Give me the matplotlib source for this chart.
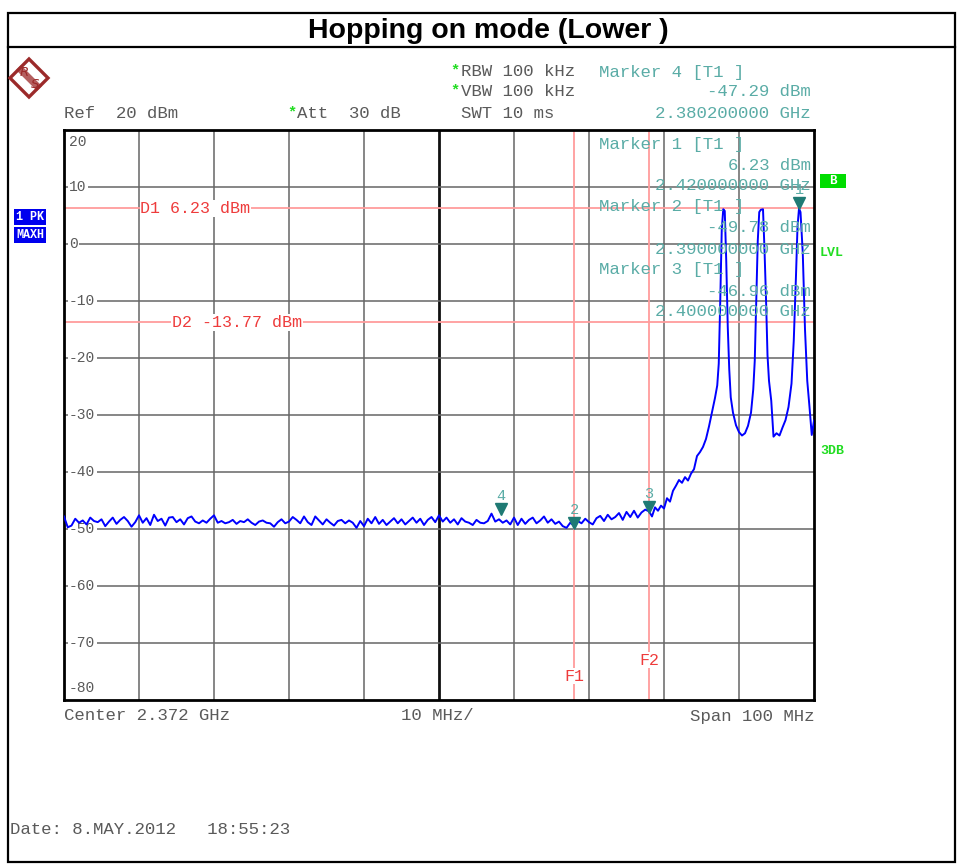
import numpy as np
import matplotlib.pyplot as plt
from matplotlib.patches import Rectangle, Polygon
from matplotlib.lines import Line2D
from matplotlib import transforms

# image size in pixels, all layout done in pixel coords
W, H = 961, 866


def fx(x):
    return x / W


def fy(y):
    return 1 - y / H


# spectrum settings
start_mhz = 2322.0
stop_mhz = 2422.0
ref_top = 20
ref_bottom = -80
y_ticks = [20, 10, 0, -10, -20, -30, -40, -50, -60, -70, -80]

# noise floor, 0.5 MHz steps from 2322.0 to 2399.5 MHz (dBm)
floor_levels = [
    -47.8, -49.7, -49.4, -48.2, -48.9, -48.5, -49.2, -48.0, -48.6, -48.8,
    -48.3, -49.5, -48.7, -48.0, -49.1, -48.4, -47.9, -48.6, -49.6, -48.8,
    -47.6, -48.9, -48.1, -49.3, -47.5, -48.6, -48.2, -49.4, -48.0, -47.9,
    -48.8, -48.3, -49.2, -48.1, -47.8, -48.7, -49.0, -48.5, -48.9, -48.2,
    -47.6, -48.9, -48.6, -49.0, -48.8, -48.4, -49.1, -48.6, -48.8, -48.3,
    -48.9, -49.3, -48.7, -48.5, -48.9, -49.0, -49.6, -48.8, -48.3, -49.0,
    -48.7, -47.9, -48.4, -49.0, -47.8, -48.8, -49.3, -47.8, -48.5, -49.2,
    -48.3, -48.9, -49.4, -48.6, -48.4, -49.0, -48.5, -48.9, -49.8, -48.6,
    -49.5, -48.2, -49.0, -47.9, -49.1, -48.4, -49.3, -48.7, -48.1, -49.0,
    -48.3, -49.2, -48.6, -48.0, -48.9, -48.2, -49.3, -48.4, -47.9, -48.8,
    -47.6, -48.7, -48.0, -48.9, -48.3, -49.2, -48.1, -48.7, -48.9, -49.3,
    -48.4, -48.9, -49.0, -48.6, -47.3, -48.7, -48.3, -48.9, -48.5, -49.2,
    -48.0, -49.3, -48.2, -49.1, -48.4, -48.0, -49.0, -48.5, -47.8, -48.9,
    -48.3, -49.1, -48.7, -49.5, -49.8, -48.9, -49.4, -48.6, -49.0, -48.2,
    -48.8, -49.2, -48.1, -47.7, -48.6, -47.5, -48.3, -47.9, -47.2, -48.4,
    -47.0, -47.9, -46.8, -48.0, -47.1, -46.6,
]
floor_freq = start_mhz + np.arange(len(floor_levels)) * 0.5

# ramp and the three hopping carriers (offset MHz from start, dBm)
tail_offset = [
    78.0, 78.4, 78.8, 79.2, 79.6, 80.0, 80.4, 80.8, 81.2, 81.6,
    82.0, 82.4, 82.8, 83.2, 83.6, 84.0, 84.4, 84.8, 85.2, 85.6,
    86.0, 86.4, 86.8, 87.1, 87.3, 87.5, 87.7, 87.9, 88.1, 88.3,
    88.5, 88.7, 88.9, 89.2, 89.6, 90.0, 90.4, 90.8, 91.2, 91.6,
    91.9, 92.1, 92.3, 92.5, 92.7, 92.9, 93.2, 93.4, 93.6, 93.8,
    94.0, 94.3, 94.6, 95.0, 95.4, 95.8, 96.2, 96.6, 97.0, 97.3,
    97.6, 97.8, 98.0, 98.2, 98.5, 98.8, 99.1, 99.4, 99.7, 100.0,
]
tail_levels = [
    -46.9, -47.8, -46.2, -46.8, -45.9, -46.4, -44.6, -45.2, -43.3, -42.4,
    -41.4, -41.9, -40.9, -41.5, -40.3, -39.5, -37.2, -36.5, -35.6, -34.2,
    -32.0, -29.5, -27.0, -24.8, -21.0, -10.0, 2.5, 6.1, 5.8, -3.0,
    -14.5, -22.0, -26.9, -29.6, -31.8, -33.0, -33.6, -33.2, -31.9, -29.6,
    -25.5, -20.5, -10.0, 0.5, 5.6, 6.0, 6.1, -1.0, -9.5, -19.5,
    -24.0, -27.5, -33.8, -33.2, -33.6, -32.2, -30.9, -28.6, -24.5, -17.0,
    -5.5, 3.0, 6.23, 5.6, -1.5, -15.0, -24.0, -28.6, -33.5, -31.0,
]
tail_freq = start_mhz + np.array(tail_offset)

trace_freq = np.concatenate([floor_freq, tail_freq])
trace_level = np.concatenate([floor_levels, tail_levels])

# markers: number, frequency (MHz), level (dBm)
marker_ids = ["1", "2", "3", "4"]
marker_freq = [2420.0, 2390.0, 2400.0, 2380.2]
marker_level = [6.23, -49.78, -46.96, -47.29]

# display lines and frequency lines
d_names = ["D1", "D2"]
d_levels = [6.23, -13.77]
f_names = ["F1", "F2"]
f_lines = [2390.0, 2400.0]

mono = "Liberation Mono"
gray_txt = "#5a5a5a"
teal_txt = "#5aaca6"
teal_mark = "#1f7a74"
red_line = "#ff9c9c"
red_txt = "#ee3b3b"
green = "#22dd22"
logo_red = "#9b2a2a"

fig = plt.figure(figsize=(W / 100, H / 100), dpi=100)
fig.patch.set_facecolor("white")

# outer frame + title band
fig.add_artist(Rectangle((fx(8), fy(862)), (955 - 8) / W, (862 - 13) / H,
                         transform=fig.transFigure, fill=False, lw=1.6, color="black"))
fig.add_artist(Line2D([fx(8), fx(955)], [fy(47), fy(47)], transform=fig.transFigure,
                      lw=1.6, color="black"))
fig.text(fx(488), fy(31), "Hopping on mode (Lower )", ha="center", va="center",
         fontsize=20.5, fontweight="bold", family="Liberation Sans")

# R&S logo
cx, cy, r = 29, 78, 19
fig.add_artist(Polygon([(fx(cx), fy(cy - r)), (fx(cx + r), fy(cy)), (fx(cx), fy(cy + r)),
                        (fx(cx - r), fy(cy))], closed=True, transform=fig.transFigure,
                       fill=False, lw=2.4, edgecolor=logo_red))
fig.add_artist(Line2D([fx(cx - 8), fx(cx + 8)], [fy(cy - 8), fy(cy + 8)],
                      transform=fig.transFigure, lw=5, color=logo_red, alpha=0.75))
fig.text(fx(cx - 5), fy(cy - 6), "R", ha="center", va="center", fontsize=9.5,
         style="italic", color=logo_red)
fig.text(fx(cx + 6), fy(cy + 6), "S", ha="center", va="center", fontsize=9.5,
         style="italic", color=logo_red)

# header texts
fig.text(fx(64), fy(114), "Ref  20 dBm", family=mono, fontsize=12.5, color=gray_txt, va="center")
fig.text(fx(287), fy(112), "*", family=mono, fontsize=11, color=green, va="center", fontweight="bold")
fig.text(fx(297), fy(114), "Att  30 dB", family=mono, fontsize=12.5, color=gray_txt, va="center")
fig.text(fx(450), fy(70), "*", family=mono, fontsize=11, color=green, va="center", fontweight="bold")
fig.text(fx(461), fy(72), "RBW 100 kHz", family=mono, fontsize=12.5, color=gray_txt, va="center")
fig.text(fx(450), fy(90), "*", family=mono, fontsize=11, color=green, va="center", fontweight="bold")
fig.text(fx(461), fy(92), "VBW 100 kHz", family=mono, fontsize=12.5, color=gray_txt, va="center")
fig.text(fx(461), fy(114), "SWT 10 ms", family=mono, fontsize=12.5, color=gray_txt, va="center")

# marker readouts
readout_rows = [
    (72, "Marker 4 [T1 ]", "left"), (92, "-47.29 dBm", "right"), (114, "2.380200000 GHz", "right"),
    (144, "Marker 1 [T1 ]", "left"), (165, "6.23 dBm", "right"), (186, "2.420000000 GHz", "right"),
    (207, "Marker 2 [T1 ]", "left"), (228, "-49.78 dBm", "right"), (249, "2.390000000 GHz", "right"),
    (270, "Marker 3 [T1 ]", "left"), (291, "-46.96 dBm", "right"), (312, "2.400000000 GHz", "right"),
]
for yy, txt, side in readout_rows:
    xx = 599 if side == "left" else 811
    fig.text(fx(xx), fy(yy), txt, family=mono, fontsize=12.5, color=teal_txt,
             va="center", ha=side, zorder=5)

# the diagram
ax = fig.add_axes([fx(64), fy(700), 750 / W, 570 / H])
ax.set_xlim(start_mhz, stop_mhz)
ax.set_ylim(ref_bottom, ref_top)
ax.set_xticks([])
ax.set_yticks([])
for sp in ax.spines.values():
    sp.set_linewidth(2)
    sp.set_color("black")

grid_x = np.linspace(start_mhz, stop_mhz, 11)
for i, gx in enumerate(grid_x[1:-1]):
    if i == 4:
        ax.axvline(gx, color="#111111", lw=2, zorder=1)
    else:
        ax.axvline(gx, color="#666666", lw=1.1, zorder=1)
for gy in y_ticks[1:-1]:
    ax.axhline(gy, color="#666666", lw=1.1, zorder=1)

# y labels sit inside the plot on the grid lines
for val in y_ticks:
    if val == ref_top:
        ypix = 142
    elif val == ref_bottom:
        ypix = 688
    else:
        ypix = 130 + (ref_top - val) * 5.7
    ax.text(fx(69), fy(ypix), str(val), transform=fig.transFigure, family=mono,
            fontsize=10.5, color=gray_txt, va="center", ha="left", zorder=2,
            bbox=dict(facecolor="white", edgecolor="none", pad=1))

# display lines
d_label_x = [2332.2, 2336.4]
for name, lvl, lx in zip(d_names, d_levels, d_label_x):
    ax.axhline(lvl, color=red_line, lw=1.3, zorder=2)
    ax.text(lx, lvl, f"{name} {lvl:.2f} dBm", family=mono, fontsize=12, color=red_txt,
            va="center", ha="left", zorder=3,
            bbox=dict(facecolor="white", edgecolor="none", pad=0.5))

# frequency lines
f_label_y = [-75.8, -73.0]
for name, fl, ly in zip(f_names, f_lines, f_label_y):
    ax.axvline(fl, color=red_line, lw=1.3, zorder=2)
    ax.text(fl, ly, name, family=mono, fontsize=12, color=red_txt, va="center", ha="center",
            zorder=3, bbox=dict(facecolor="white", edgecolor="none", pad=0.5))

# trace
ax.plot(trace_freq, trace_level, color="#0000ff", lw=1.4, zorder=4)

# marker symbols
tri_tf = transforms.offset_copy(ax.transData, fig=fig, x=0, y=5, units="dots")
num_tf = transforms.offset_copy(ax.transData, fig=fig, x=0, y=18, units="dots")
for mid, mf, ml in zip(marker_ids, marker_freq, marker_level):
    ax.plot(mf, ml, marker="v", color=teal_mark, markersize=8, transform=tri_tf, zorder=6)
    ax.text(mf, ml, mid, transform=num_tf, family=mono, fontsize=11, color=teal_txt,
            ha="center", va="center", zorder=6)

# right and left side annotations
fig.add_artist(Rectangle((fx(820), fy(188)), 26 / W, 14 / H, transform=fig.transFigure,
                         facecolor="#00dd00", edgecolor="none"))
fig.text(fx(833), fy(181), "B", family=mono, fontsize=9, color="white", fontweight="bold",
         ha="center", va="center")
fig.text(fx(820), fy(253), "LVL", family=mono, fontsize=9.5, color=green, fontweight="bold",
         va="center")
fig.text(fx(820), fy(451), "3DB", family=mono, fontsize=9.5, color=green, fontweight="bold",
         va="center")
fig.text(fx(30), fy(217), "1 PK", family=mono, fontsize=8.5, color="white", fontweight="bold",
         ha="center", va="center", bbox=dict(facecolor="#0000ee", edgecolor="none", pad=1.5))
fig.text(fx(30), fy(235), "MAXH", family=mono, fontsize=8.5, color="white", fontweight="bold",
         ha="center", va="center", bbox=dict(facecolor="#0000ee", edgecolor="none", pad=1.5))

# footer
fig.text(fx(64), fy(716), "Center 2.372 GHz", family=mono, fontsize=12.5, color=gray_txt, va="center")
fig.text(fx(437), fy(716), "10 MHz/", family=mono, fontsize=12.5, color=gray_txt, va="center", ha="center")
fig.text(fx(814), fy(716), "Span 100 MHz", family=mono, fontsize=12.5, color=gray_txt, va="center", ha="right")
fig.text(fx(10), fy(830), "Date: 8.MAY.2012   18:55:23", family=mono, fontsize=12.5,
         color=gray_txt, va="center")

fig.savefig("out.png", dpi=100)
